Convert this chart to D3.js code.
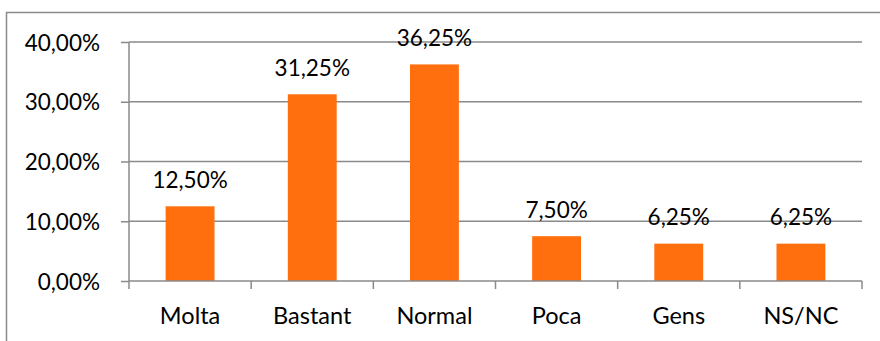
<!DOCTYPE html>
<html>
<head>
<meta charset="utf-8">
<script src="https://cdn.jsdelivr.net/npm/d3@7"></script>
<style>
  html, body { margin: 0; padding: 0; background: #fff; }
  svg { display: block; }
  text { font-family: Lato, "Open Sans", sans-serif; fill: #000; }
</style>
</head>
<body>
<svg id="chart" width="880" height="341"></svg>
<script>
const categories = ["Molta", "Bastant", "Normal", "Poca", "Gens", "NS/NC"];
const values = [12.5, 31.25, 36.25, 7.5, 6.25, 6.25];
const yTicks = [0, 10, 20, 30, 40];

const fmt = v => v.toFixed(2).replace(".", ",") + "%";

const svg = d3.select("#chart");
const mLeft = 129, mRight = 862, mTop = 42, mBottom = 281;

// outer border (extends beyond the visible canvas on right and bottom)
svg.append("rect")
  .attr("x", 6.5).attr("y", 12.5)
  .attr("width", 900).attr("height", 400)
  .attr("fill", "none").attr("stroke", "#8a8a8a").attr("stroke-width", 1.5);

const x = d3.scaleBand().domain(categories).range([mLeft, mRight]).paddingInner(0).paddingOuter(0);
const y = d3.scaleLinear().domain([0, 40]).range([mBottom, mTop]);

// gridlines
svg.append("g").selectAll("line").data(yTicks.filter(d => d > 0)).join("line")
  .attr("x1", mLeft).attr("x2", mRight)
  .attr("y1", d => y(d)).attr("y2", d => y(d))
  .attr("stroke", "#8a8a8a").attr("stroke-width", 1.5);

// bars
const bw = x.bandwidth() * 0.4;
svg.append("g").selectAll("rect").data(values).join("rect")
  .attr("x", (d, i) => x(categories[i]) + x.bandwidth() / 2 - bw / 2)
  .attr("y", d => y(d))
  .attr("width", bw)
  .attr("height", d => y(0) - y(d))
  .attr("fill", "#FF6F0D");

// data labels
svg.append("g").selectAll("text").data(values).join("text")
  .attr("x", (d, i) => x(categories[i]) + x.bandwidth() / 2)
  .attr("y", d => y(d) - 18.5)
  .attr("text-anchor", "middle")
  .attr("font-size", 22.5)
  .text(d => fmt(d));

// y axis
const yAxis = d3.axisLeft(y).tickValues(yTicks).tickFormat(fmt).tickSize(8).tickPadding(21);
const gy = svg.append("g").attr("transform", `translate(${mLeft},0)`).call(yAxis);
gy.select(".domain").attr("stroke", "#8a8a8a").attr("stroke-width", 1.5).attr("d", `M0,${mTop}V${mBottom}`);
gy.selectAll(".tick line").attr("stroke", "#8a8a8a").attr("stroke-width", 1.5);
gy.selectAll(".tick text").attr("font-size", 22.5).attr("font-family", "Lato, sans-serif").attr("fill", "#000").attr("dy", "0.36em");

// x axis
const xAxis = d3.axisBottom(x).tickSize(0).tickPadding(30);
const gx = svg.append("g").attr("transform", `translate(0,${mBottom})`).call(xAxis);
gx.select(".domain").attr("stroke", "#8a8a8a").attr("stroke-width", 1.5).attr("d", `M${mLeft},0H${mRight}`);
gx.selectAll(".tick text").attr("font-size", 23.5).attr("font-family", "Lato, sans-serif").attr("fill", "#000").attr("dy", "0.72em").attr("y", 26.5);
// category boundary tick marks
const bounds = categories.map(c => x(c)).concat([mRight]);
gx.append("g").selectAll("line").data(bounds).join("line")
  .attr("x1", d => d).attr("x2", d => d).attr("y1", 0).attr("y2", 8)
  .attr("stroke", "#8a8a8a").attr("stroke-width", 1.5);
</script>
</body>
</html>
